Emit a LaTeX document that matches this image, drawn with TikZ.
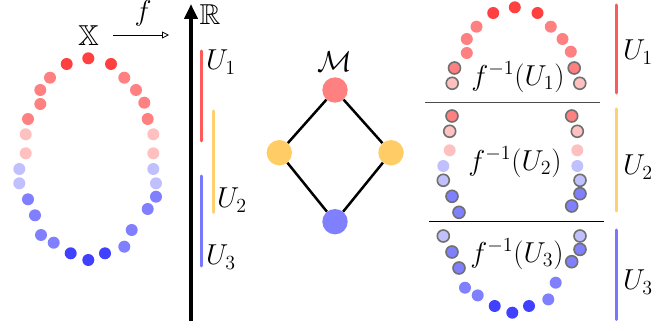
\documentclass[tikz,border=0pt]{standalone}
\usepackage{amsmath,amssymb,graphicx}
\usetikzlibrary{arrows.meta}
\definecolor{rD}{HTML}{FF4040}
\definecolor{rM}{HTML}{FF8080}
\definecolor{rL}{HTML}{FFC0C0}
\definecolor{bL}{HTML}{C0C0FF}
\definecolor{bM}{HTML}{8080FF}
\definecolor{bD}{HTML}{4040FF}
\definecolor{ringgray}{HTML}{707070}
\definecolor{barR}{HTML}{FF5A5A}
\definecolor{barY}{HTML}{FFD070}
\definecolor{barB}{HTML}{7878FF}
\definecolor{nodeY}{HTML}{FFCC66}
\newcommand{\biglab}[1]{\scalebox{1.39}{#1}}
\tikzset{
  plain/.style={},
  ring/.style={draw=ringgray, line width=1.6pt},
  bar/.style={line width=3pt, line cap=round},
  lbl/.style={inner sep=0pt, font=\fontsize{20.74}{24}\selectfont},
  mnode/.style={circle, minimum size=25.4pt, inner sep=0pt},
  medge/.style={line width=2.5pt},
}
\newcommand{\dotr}{6}
\begin{document}
\begin{tikzpicture}[x=1pt,y=-1pt]
\useasboundingbox (0,0) rectangle (670,331);

% ---------- left ring X ----------
\foreach \x/\y/\c in {88.3/58.3/rD, 66.7/64/rD, 111/64/rD,
  50/77.7/rM, 124.3/77.7/rM, 40.3/90/rM, 136/90/rM, 40.3/104/rM, 144.3/102.7/rM,
  28/119/rM, 147.7/119/rM, 25.7/134.3/rL, 153.3/134.3/rL, 25.7/153.3/rL, 153.3/153.3/rL,
  19.3/169/bL, 153.3/169/bL, 19.3/183.3/bL, 156/183.3/bL,
  28/199.3/bM, 156/196.7/bM, 35/215.3/bM, 147.7/209/bM, 41/235/bM, 131.7/230/bM,
  53.7/242.7/bM, 124.3/246.7/bM, 70.7/253.3/bD, 105/253.3/bD, 88.3/260/bD}
  \fill[\c] (\x,\y) circle (\dotr);

\node[lbl] (X) at (88.5,35.5) {\biglab{$\mathbb{X}$}};
\coordinate (fs) at (113,35);
\coordinate (fe) at (169,35);
\draw[line width=0.8pt, -{Triangle[open,length=7pt,width=7pt]}] (fs) -- (fe);
\node[lbl] (f) at (143,13) {\biglab{$f$}};

% ---------- axis R ----------
\coordinate (ax0) at (191,321.5);
\coordinate (ax1) at (191,4);
\draw[line width=4pt, -{Triangle[length=15pt,width=13pt]}] (ax0) -- (ax1);
\node[lbl] (R) at (210,15) {\biglab{$\mathbb{R}$}};

\coordinate (u1a) at (201.7,51);
\coordinate (u1b) at (201.7,141);
\coordinate (u2a) at (213.3,111);
\coordinate (u2b) at (213.3,212.5);
\coordinate (u3a) at (201.7,176);
\coordinate (u3b) at (201.7,266);
\draw[bar, barR] (u1a) -- (u1b);
\draw[bar, barY] (u2a) -- (u2b);
\draw[bar, barB] (u3a) -- (u3b);
\node[lbl] (U1a) at (221,62) {\biglab{$U_1$}};
\node[lbl] (U2a) at (232,200) {\biglab{$U_2$}};
\node[lbl] (U3a) at (221,257) {\biglab{$U_3$}};

% ---------- Mapper graph M ----------
\node[lbl] (M) at (335,62) {\biglab{$\mathcal{M}$}};
\node[mnode, fill=rM] (mt) at (335,90) {};
\node[mnode, fill=nodeY] (ml) at (279.3,152.7) {};
\node[mnode, fill=nodeY] (mr) at (391,152.7) {};
\node[mnode, fill=bM] (mb) at (335,221.7) {};
\draw[medge] (mt) -- (ml);
\draw[medge] (mt) -- (mr);
\draw[medge] (ml) -- (mb);
\draw[medge] (mr) -- (mb);

% ---------- pullback pieces ----------
\begin{scope}[shift={(426.5,-51)}]
\foreach \x/\y/\c/\s in {88.3/58.3/rD/plain, 66.7/64/rD/plain, 111/64/rD/plain,
  50/77.7/rM/plain, 124.3/77.7/rM/plain, 40.3/90/rM/plain, 136/90/rM/plain, 40.3/104/rM/plain, 144.3/102.7/rM/plain,
  28/119/rM/ring, 147.7/119/rM/ring, 25.7/134.3/rL/ring, 153.3/134.3/rL/ring}
  \fill[\c, \s] (\x,\y) circle (\dotr);
\end{scope}
\begin{scope}[shift={(424,-3)}]
\foreach \x/\y/\c/\s in {
  28/119/rM/ring, 147.7/119/rM/ring, 25.7/134.3/rL/ring, 153.3/134.3/rL/ring,
  25.7/153.3/rL/plain, 153.3/153.3/rL/plain,
  19.3/169/bL/plain, 153.3/169/bL/plain, 19.3/183.3/bL/ring, 156/183.3/bL/ring,
  28/199.3/bM/ring, 156/196.7/bM/ring, 35/215.3/bM/ring, 147.7/209/bM/ring}
  \fill[\c, \s] (\x,\y) circle (\dotr);
\end{scope}
\begin{scope}[shift={(424,52.7)}]
\foreach \x/\y/\c/\s in {
  19.3/183.3/bL/ring, 156/183.3/bL/ring,
  28/199.3/bM/ring, 156/196.7/bM/ring, 35/215.3/bM/ring, 147.7/209/bM/ring,
  41/235/bM/plain, 131.7/230/bM/plain,
  53.7/242.7/bM/plain, 124.3/246.7/bM/plain, 70.7/253.3/bD/plain, 105/253.3/bD/plain, 88.3/260/bD/plain}
  \fill[\c, \s] (\x,\y) circle (\dotr);
\end{scope}

\coordinate (s1a) at (425,102.3);
\coordinate (s1b) at (600,102.3);
\coordinate (s2a) at (429.3,221.7);
\coordinate (s2b) at (604.3,221.7);
\draw[line width=1.2pt, black!70] (s1a) -- (s1b);
\draw[line width=1.2pt, black] (s2a) -- (s2b);

\node[lbl] (P1) at (518,77) {\biglab{$f^{-1}(U_1)$}};
\node[lbl] (P2) at (515,162) {\biglab{$f^{-1}(U_2)$}};
\node[lbl] (P3) at (517,254) {\biglab{$f^{-1}(U_3)$}};

\coordinate (v1a) at (616.7,5);
\coordinate (v1b) at (616.7,93);
\coordinate (v2a) at (616.7,109);
\coordinate (v2b) at (616.7,211);
\coordinate (v3a) at (616.7,230);
\coordinate (v3b) at (616.7,319.5);
\draw[bar, barR] (v1a) -- (v1b);
\draw[bar, barY] (v2a) -- (v2b);
\draw[bar, barB] (v3a) -- (v3b);
\node[lbl] (U1b) at (638,52) {\biglab{$U_1$}};
\node[lbl] (U2b) at (638,167) {\biglab{$U_2$}};
\node[lbl] (U3b) at (638,282) {\biglab{$U_3$}};
\end{tikzpicture}
\end{document}
